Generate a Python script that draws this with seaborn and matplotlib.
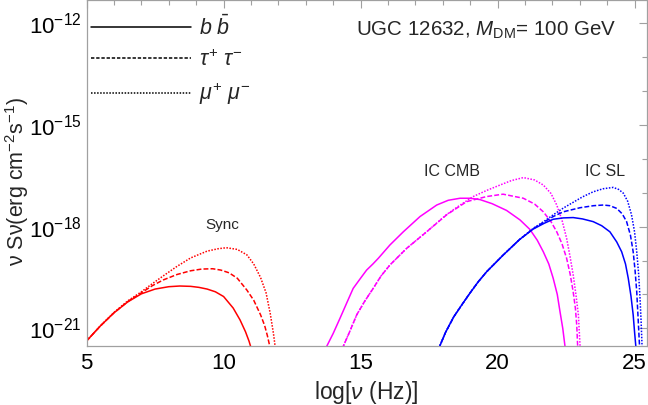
import numpy as np
import pandas as pd
import matplotlib
matplotlib.use("Agg")
import matplotlib.pyplot as plt
from matplotlib.lines import Line2D
from matplotlib.ticker import FixedLocator, FixedFormatter
import seaborn as sns

# ---------------- data (log10 nu [Hz], log10 nu S_nu [erg cm^-2 s^-1]) ----------------
sync_bb_v = [5.0, 5.5, 6.0, 6.5, 7.0, 7.5, 8.0, 8.4, 8.8, 9.1, 9.4, 9.7, 10.0, 10.35, 10.6, 10.8, 10.93, 11.03]
sync_bb_L = [-21.37, -20.93, -20.54, -20.22, -19.98, -19.84, -19.77, -19.75, -19.76, -19.79, -19.84, -19.92, -20.06, -20.40, -20.75, -21.1, -21.38, -21.65]

sync_tt_v = [5.0, 5.5, 6.0, 6.5, 7.0, 7.4, 7.8, 8.3, 8.8, 9.2, 9.6, 9.9, 10.2, 10.5, 10.85, 11.1, 11.35, 11.5, 11.6, 11.72]
sync_tt_L = [-21.37, -20.93, -20.54, -20.21, -19.95, -19.74, -19.57, -19.41, -19.30, -19.25, -19.24, -19.28, -19.36, -19.52, -19.87, -20.17, -20.6, -20.92, -21.22, -21.65]

sync_mm_v = [5.0, 5.5, 6.0, 6.5, 7.0, 7.4, 7.8, 8.3, 8.8, 9.4, 9.8, 10.1, 10.5, 10.85, 11.1, 11.35, 11.55, 11.7, 11.82, 11.9]
sync_mm_L = [-21.37, -20.93, -20.53, -20.19, -19.92, -19.68, -19.45, -19.17, -18.92, -18.72, -18.65, -18.62, -18.67, -18.83, -19.1, -19.5, -19.95, -20.55, -21.15, -21.65]

cmb_bb_v = [13.72, 14.0, 14.25, 14.5, 14.73, 15.0, 15.22, 15.45, 15.65, 16.07, 16.56, 17.17, 17.78, 18.2, 18.63, 19.0, 19.36, 19.8, 20.33, 20.82, 21.18, 21.45, 21.67, 21.87, 22.03, 22.18, 22.28, 22.38, 22.48]
cmb_bb_L = [-21.6, -21.15, -20.70, -20.24, -19.82, -19.52, -19.28, -19.10, -18.93, -18.54, -18.15, -17.70, -17.36, -17.22, -17.16, -17.16, -17.20, -17.32, -17.52, -17.80, -18.08, -18.4, -18.74, -19.1, -19.52, -20.0, -20.51, -21.0, -21.65]

cmb_tt_v = [14.33, 14.6, 14.86, 15.15, 15.46, 15.75, 16.07, 16.68, 17.41, 18.14, 18.87, 19.6, 20.2, 20.94, 21.35, 21.67, 21.95, 22.16, 22.35, 22.52, 22.65, 22.76, 22.84, 22.89, 22.93]
cmb_tt_L = [-21.6, -21.1, -20.60, -20.2, -19.82, -19.45, -19.13, -18.64, -18.15, -17.65, -17.26, -17.11, -17.04, -17.16, -17.33, -17.56, -17.85, -18.15, -18.5, -18.93, -19.4, -19.92, -20.4, -20.9, -21.65]

cmb_mm_v = [14.33, 14.6, 14.86, 15.15, 15.46, 15.75, 16.07, 16.68, 17.41, 18.14, 18.6, 19.11, 19.6, 20.09, 20.5, 20.94, 21.35, 21.67, 21.95, 22.16, 22.35, 22.52, 22.65, 22.76, 22.86, 22.95, 23.02]
cmb_mm_L = [-21.6, -21.1, -20.60, -20.2, -19.82, -19.45, -19.13, -18.64, -18.15, -17.64, -17.38, -17.11, -16.93, -16.77, -16.64, -16.55, -16.62, -16.77, -17.02, -17.36, -17.8, -18.34, -18.9, -19.42, -20.0, -20.6, -21.65]

sl_bb_v = [17.85, 18.1, 18.4, 18.7, 19.0, 19.3, 19.6, 20.2, 20.8, 21.3, 21.7, 22.03, 22.4, 22.76, 23.1, 23.49, 23.8, 24.1, 24.35, 24.53, 24.67, 24.77, 24.87, 24.95, 25.0, 25.06]
sl_bb_L = [-21.6, -21.12, -20.66, -20.3, -19.95, -19.62, -19.33, -18.84, -18.38, -18.07, -17.9, -17.78, -17.74, -17.73, -17.77, -17.85, -17.97, -18.15, -18.45, -18.74, -19.1, -19.52, -20.05, -20.6, -21.1, -21.65]

sl_tt_v = [17.85, 18.1, 18.4, 18.7, 19.0, 19.3, 19.6, 20.2, 20.8, 21.3, 21.7, 22.03, 22.4, 23.01, 23.5, 23.86, 24.1, 24.35, 24.55, 24.71, 24.85, 24.95, 25.02, 25.08, 25.13, 25.19]
sl_tt_L = [-21.6, -21.12, -20.66, -20.3, -19.95, -19.62, -19.33, -18.84, -18.38, -18.06, -17.86, -17.70, -17.56, -17.44, -17.38, -17.36, -17.38, -17.46, -17.62, -17.85, -18.25, -18.74, -19.3, -19.92, -20.7, -21.65]

sl_mm_v = [17.85, 18.1, 18.4, 18.7, 19.0, 19.3, 19.6, 20.2, 20.8, 21.3, 21.7, 22.03, 22.4, 22.76, 23.1, 23.49, 23.85, 24.22, 24.42, 24.59, 24.75, 24.89, 25.0, 25.08, 25.15, 25.2, 25.24, 25.28]
sl_mm_L = [-21.6, -21.12, -20.66, -20.3, -19.95, -19.62, -19.33, -18.84, -18.38, -18.05, -17.84, -17.65, -17.45, -17.28, -17.12, -16.97, -16.88, -16.84, -16.9, -17.01, -17.25, -17.65, -18.15, -18.74, -19.4, -20.11, -20.8, -21.65]

channels = ["bb", "tautau", "mumu"]
channel_labels = [r"$b\ \bar{b}$", r"$\tau^{+}\ \tau^{-}$", r"$\mu^{+}\ \mu^{-}$"]
processes = ["Sync", "IC CMB", "IC SL"]
process_colors = {"Sync": "#FF0000", "IC CMB": "#FF00FF", "IC SL": "#0000FF"}

x_ticks = [5, 10, 15, 20, 25]
y_tick_exps = [-21, -18, -15, -12]
title_text = r"UGC 12632, $M_{\mathrm{DM}}$= 100 GeV"
xlabel_text = r"log[$\mathit{\nu}$ (Hz)]"
ylabel_text = r"$\mathrm{\nu\ S\nu(erg\ cm^{-2}s^{-1})}$"

curves = [
    ("Sync", "bb", sync_bb_v, sync_bb_L), ("Sync", "tautau", sync_tt_v, sync_tt_L), ("Sync", "mumu", sync_mm_v, sync_mm_L),
    ("IC CMB", "bb", cmb_bb_v, cmb_bb_L), ("IC CMB", "tautau", cmb_tt_v, cmb_tt_L), ("IC CMB", "mumu", cmb_mm_v, cmb_mm_L),
    ("IC SL", "bb", sl_bb_v, sl_bb_L), ("IC SL", "tautau", sl_tt_v, sl_tt_L), ("IC SL", "mumu", sl_mm_v, sl_mm_L),
]
frames = []
for proc, ch, v, L in curves:
    frames.append(pd.DataFrame({"logv": v, "S": 10.0 ** np.array(L), "process": proc, "channel": ch}))
df = pd.concat(frames, ignore_index=True)

# ---------------- style ----------------
sns.set_theme(style="white")
plt.rcParams["font.family"] = ["Liberation Sans", "DejaVu Sans"]
plt.rcParams["mathtext.fontset"] = "custom"
plt.rcParams["mathtext.rm"] = "Liberation Sans"
plt.rcParams["mathtext.it"] = "Liberation Sans:italic"
plt.rcParams["mathtext.bf"] = "Liberation Sans:bold"

fig = plt.figure(figsize=(6.48, 4.05), dpi=100)
ax = fig.add_axes([86.6 / 648, 1 - 346 / 405, 560.0 / 648, 346 / 405])

dash_map = {"bb": "", "tautau": (3.2, 1.4), "mumu": (1.0, 1.0)}
sns.lineplot(data=df, x="logv", y="S", hue="process", style="channel",
             palette=process_colors, dashes=dash_map, hue_order=processes,
             style_order=channels, estimator=None, sort=False, legend=False,
             linewidth=1.1, ax=ax)

ax.set_yscale("log")
ax.set_xlim(5, 25.44)
ax.set_ylim(10 ** -21.52, 10 ** -11.31)

ax.xaxis.set_major_locator(FixedLocator(x_ticks))
ax.xaxis.set_minor_locator(FixedLocator(np.arange(5, 26, 1)))
ax.yaxis.set_major_locator(FixedLocator([10.0 ** e for e in y_tick_exps]))
ax.yaxis.set_minor_locator(FixedLocator([10.0 ** e for e in range(-22, -10)]))
ax.yaxis.set_major_formatter(FixedFormatter([r"$10^{%d}$" % e for e in y_tick_exps]))
ax.yaxis.set_minor_formatter(FixedFormatter([""] * 12))

frame_col = "#a0a0a0"
for s in ax.spines.values():
    s.set_color(frame_col)
    s.set_linewidth(0.9)
ax.tick_params(which="both", direction="in", top=True, right=True, color=frame_col, width=0.8)
ax.tick_params(which="major", length=6, labelsize=16, labelcolor="black")
ax.tick_params(which="minor", length=3.5)
ax.tick_params(axis="x", which="major", pad=5)
ax.tick_params(axis="y", which="major", pad=3.5)

ax.set_xlabel(xlabel_text, fontsize=16.5)
ax.set_ylabel(ylabel_text, fontsize=15.5)
ax.xaxis.set_label_coords((366 - 86.6) / 560.0, -(392 - 346) / 346)
ax.yaxis.set_label_coords(-(86.6 - 17) / 560.0, 1 - (181) / 346)
ax.xaxis.label.set_va("center")
ax.yaxis.label.set_va("center")

ax.text(0.243, 0.350, "Sync", transform=ax.transAxes, ha="center", va="center", fontsize=11)
ax.text(0.652, 0.503, "IC CMB", transform=ax.transAxes, ha="center", va="center", fontsize=11.5)
ax.text(0.925, 0.503, "IC SL", transform=ax.transAxes, ha="center", va="center", fontsize=11.5)
ax.text(0.714, 0.913, title_text, transform=ax.transAxes, ha="center", va="center", fontsize=14.8)

handles = [Line2D([], [], color="black", linewidth=1.1, linestyle="-"),
           Line2D([], [], color="black", linewidth=1.1, dashes=(2.2, 1.2)),
           Line2D([], [], color="black", linewidth=1.1, dashes=dash_map["mumu"])]
leg = ax.legend(handles, channel_labels, loc="upper left", bbox_to_anchor=(0.008, 0.955),
                frameon=False, fontsize=15.5, handlelength=4.65, handletextpad=0.35,
                labelspacing=0.45, borderpad=0, borderaxespad=0)

fig.savefig("out.png", dpi=100)
